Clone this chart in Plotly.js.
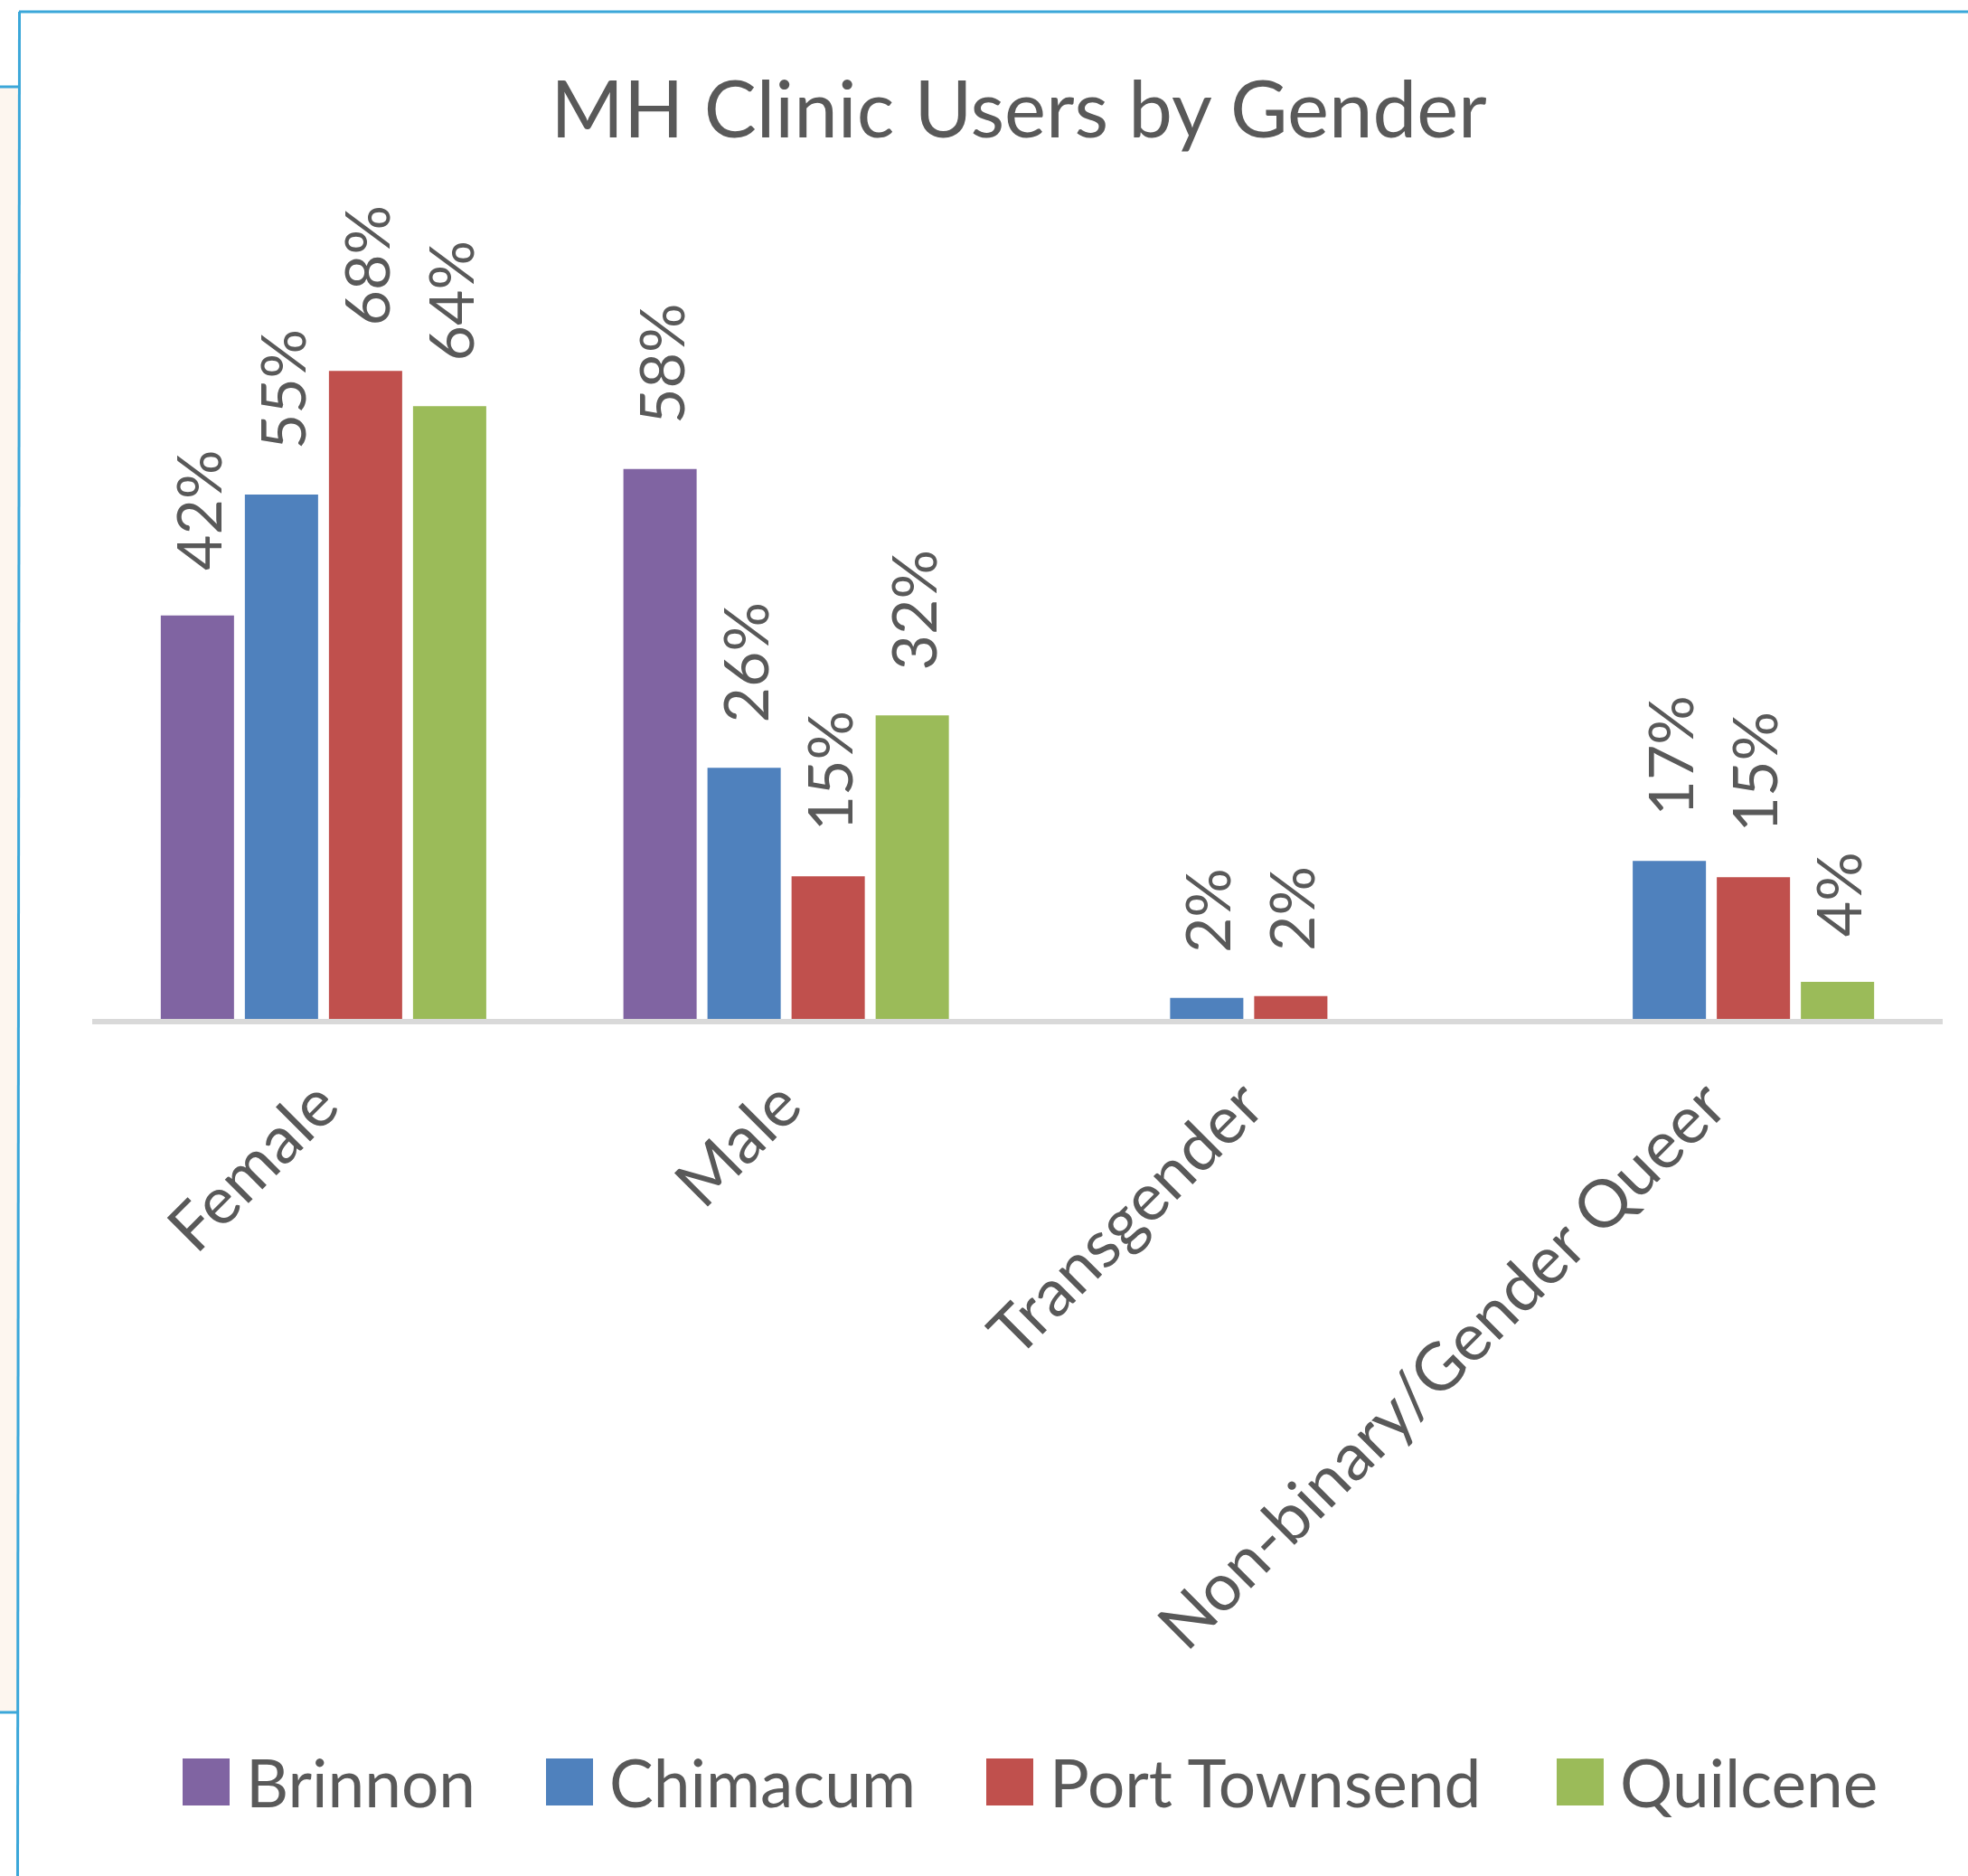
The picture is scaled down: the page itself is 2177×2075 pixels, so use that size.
<!DOCTYPE html>
<html><head><meta charset="utf-8">
<script src="https://cdn.plot.ly/plotly-3.0.1.min.js"></script>
<style>html,body{margin:0;padding:0;background:#fff;} #chart{width:2177px;height:2075px;}</style>
</head><body><div id="chart"></div>
<script>
// ---- data ----
const categories = ['Female', 'Male', 'Transgender', 'Non-binary/Gender Queer'];
const seriesNames = ['Brinnon', 'Chimacum', 'Port Townsend', 'Quilcene'];
const brinnon = [42.4, 57.8, null, null];
const chimacum = [55.1, 26.4, 2.2, 16.6];
const portTownsend = [68.1, 15.0, 2.4, 14.9];
const quilcene = [64.4, 31.9, null, 3.9];
const seriesColors = ['#8064A2', '#4F81BD', '#C0504D', '#9BBB59'];
const chartTitle = 'MH Clinic Users by Gender';

// ---- layout constants ----
const W = 2177, H = 2075;
const M = {l: 102, r: 28, t: 285, b: 948, pad: 0, autoexpand: false};
const pw = W - M.l - M.r, ph = H - M.t - M.b;
const px2x = p => (p - M.l) / pw;
const py2y = p => (H - M.b - p) / ph;
const FONT = 'Lato, "Open Sans", sans-serif';
const TXT = '#595959';
const BORDER = '#3BA7D9';

const values = [brinnon, chimacum, portTownsend, quilcene];
const legendX = [184, 586, 1073, 1704];
const legendY = 1971;

const traces = values.map((v, i) => ({
  type: 'bar',
  name: seriesNames[i],
  x: categories,
  y: v,
  marker: {color: seriesColors[i], line: {width: 0}},
  texttemplate: '\u2002\u2009\u200A%{y:.0f}%',
  textposition: 'outside',
  textangle: -90,
  constraintext: 'none',
  cliponaxis: false,
  textfont: {family: FONT, size: 68, color: TXT},
  hovertemplate: '%{x}: %{y:.0f}%<extra>' + seriesNames[i] + '</extra>',
  legend: i === 0 ? 'legend' : 'legend' + (i + 1)
}));

const layout = {
  width: W, height: H,
  margin: M,
  paper_bgcolor: '#ffffff',
  plot_bgcolor: 'rgba(0,0,0,0)',
  font: {family: FONT, color: TXT},
  title: {
    text: chartTitle,
    font: {family: FONT, size: 87, color: TXT},
    x: 1127 / W, xref: 'container', xanchor: 'center',
    y: 1 - 122 / H, yref: 'container', yanchor: 'middle'
  },
  barmode: 'group',
  bargap: 0.273,
  bargroupgap: 0.129,
  xaxis: {
    type: 'category',
    showline: true, linecolor: '#D9D9D9', linewidth: 6,
    ticks: '', showgrid: false, zeroline: false,
    tickangle: -45,
    ticklabelstandoff: 17,
    ticklabelshift: -5,
    tickfont: {family: FONT, size: 73, color: TXT},
    fixedrange: true
  },
  yaxis: {visible: false, range: [0, 80], fixedrange: true},
  showlegend: true,
  shapes: [
    {type: 'rect', xref: 'paper', yref: 'paper', x0: px2x(0), x1: px2x(20), y0: py2y(96), y1: py2y(1894),
     fillcolor: '#FDF6EF', line: {width: 0}, layer: 'below'},
    {type: 'line', xref: 'paper', yref: 'paper', x0: px2x(21), x1: px2x(W), y0: py2y(13), y1: py2y(13),
     line: {color: BORDER, width: 3}},
    {type: 'line', xref: 'paper', yref: 'paper', x0: px2x(21.5), x1: px2x(19.5), y0: py2y(13), y1: py2y(H),
     line: {color: BORDER, width: 3}},
    {type: 'line', xref: 'paper', yref: 'paper', x0: px2x(0), x1: px2x(21), y0: py2y(96), y1: py2y(96),
     line: {color: BORDER, width: 3}},
    {type: 'line', xref: 'paper', yref: 'paper', x0: px2x(0), x1: px2x(20), y0: py2y(1894), y1: py2y(1894),
     line: {color: BORDER, width: 3}}
  ]
};

seriesNames.forEach((n, i) => {
  const key = i === 0 ? 'legend' : 'legend' + (i + 1);
  layout[key] = {
    orientation: 'h',
    x: legendX[i] / W, xref: 'container', xanchor: 'left',
    y: 1 - legendY / H, yref: 'container', yanchor: 'middle',
    font: {family: FONT, size: 73, color: TXT},
    itemwidth: 78,
    bgcolor: 'rgba(0,0,0,0)', borderwidth: 0,
    itemclick: false, itemdoubleclick: false
  };
});

function bigSwatches() {
  document.querySelectorAll('#chart .legendpoints path').forEach(p => {
    p.setAttribute('d', 'M-26,-26h52v52h-52z');
  });
}

const gd = document.getElementById('chart');
Plotly.newPlot(gd, traces, layout, {displayModeBar: false}).then(() => {
  bigSwatches();
  gd.on('plotly_afterplot', bigSwatches);
});
</script>
</body></html>
